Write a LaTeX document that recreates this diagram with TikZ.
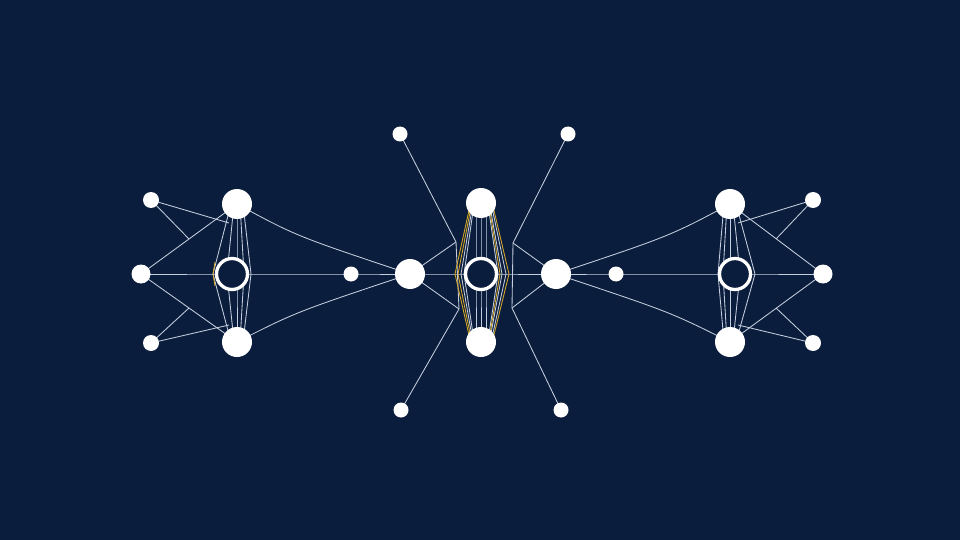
\documentclass[tikz,border=0pt]{standalone}
\pgfdeclarelayer{bgfill}
\pgfdeclarelayer{edges}
\pgfsetlayers{bgfill,edges,main}
\definecolor{bgc}{RGB}{11,29,61}
\definecolor{linec}{RGB}{196,206,222}
\definecolor{goldc}{RGB}{214,168,40}
\tikzset{
  bignode/.style={circle, fill=white, minimum size=30pt, inner sep=0pt},
  midnode/.style={circle, fill=white, minimum size=19pt, inner sep=0pt},
  smallnode/.style={circle, fill=white, minimum size=16pt, inner sep=0pt},
  tinynode/.style={circle, fill=white, minimum size=15pt, inner sep=0pt},
  ringnode/.style={circle, draw=white, line width=3.3pt, fill=bgc, minimum size=31pt, inner sep=0pt},
  edge/.style={draw=linec, line width=0.85pt},
  goldedge/.style={draw=goldc, line width=0.85pt},
}
\begin{document}
\begin{tikzpicture}[x=1pt,y=-1pt]
\begin{pgfonlayer}{bgfill}
\fill[bgc] (0,0) rectangle (960,540);
\end{pgfonlayer}
\useasboundingbox (0,0) rectangle (960,540);

% ---------- nodes: left cluster
\node[bignode] (LT) at (237,204) {};
\node[ringnode] (LR) at (232,274) {};
\node[bignode] (LB) at (237,342) {};
\node[smallnode] (LS1) at (151,200) {};
\node[midnode] (LS2) at (141,274) {};
\node[smallnode] (LS3) at (151,343) {};
\node[tinynode] (LM) at (351,274) {};
% ---------- nodes: centre cluster
\node[bignode] (CL) at (410,274) {};
\node[bignode] (CT) at (481,203) {};
\node[ringnode] (CR) at (481,274) {};
\node[bignode] (CB) at (481,342) {};
\node[bignode] (CRt) at (556,274) {};
\node[tinynode] (C1) at (400,134) {};
\node[tinynode] (C2) at (568,134) {};
\node[tinynode] (C3) at (401,410) {};
\node[tinynode] (C4) at (561,410) {};
% ---------- nodes: right cluster
\node[tinynode] (RM) at (616,274) {};
\node[bignode] (RT) at (730,204) {};
\node[ringnode] (RR) at (735,274) {};
\node[bignode] (RB) at (730,342) {};
\node[smallnode] (RS1) at (813,200) {};
\node[midnode] (RS2) at (823,274) {};
\node[smallnode] (RS3) at (813,343) {};

% ---------- junction coordinates
\coordinate (LJ1) at (189,239);
\coordinate (LJ2) at (189,308);
\coordinate (LA1) at (229,223);
\coordinate (LA2) at (229,325);
\coordinate (LK1) at (213,274);
\coordinate (LK2) at (251,274);
\coordinate (LG1) at (215,262);
\coordinate (LG2) at (215,286);
\coordinate (RJ1) at (776,239);
\coordinate (RJ2) at (776,308);
\coordinate (RA1) at (738,223);
\coordinate (RA2) at (738,325);
\coordinate (RK1) at (718,274);
\coordinate (RK2) at (755,274);
\coordinate (CJ1) at (456,242);
\coordinate (CJ2) at (459,309);
\coordinate (CJ3) at (513,243);
\coordinate (CJ4) at (512,308);

\begin{pgfonlayer}{edges}
% left cluster
\draw[edge] (LS2.center) -- (LT.center);
\draw[edge] (LS2.center) -- (LB.center);
\draw[edge] (LS1.center) -- (LJ1);
\draw[edge] (LS1.center) -- (LA1);
\draw[edge] (LS3.center) -- (LJ2);
\draw[edge] (LS3.center) -- (LA2);
\draw[edge] ([xshift=-6pt]LT.center) -- (LK1) -- ([xshift=-6pt]LB.center);
\draw[edge] ([xshift=6pt]LT.center) -- (LK2) -- ([xshift=6pt]LB.center);
\draw[edge] ([xshift=-3pt]LT.center) -- ([xshift=-5pt]LR.center) -- ([xshift=-3pt]LB.center);
\draw[edge] ([xshift=0pt]LT.center) -- ([xshift=5pt]LR.center) -- ([xshift=0pt]LB.center);
\draw[edge] ([xshift=3pt]LT.center) -- ([xshift=12pt]LR.center) -- ([xshift=3pt]LB.center);
\draw[goldedge] (LG1) -- (LK1) -- (LG2);
\draw[edge] (LS2.center) -- (LR.center) -- (LM.center) -- (CL.center);
% links between clusters
\draw[edge] (LT.center) .. controls (296,236) .. (CL.center);
\draw[edge] (LB.center) .. controls (296,312) .. (CL.center);
\draw[edge] (CRt.center) .. controls (670,236) .. (RT.center);
\draw[edge] (CRt.center) .. controls (670,312) .. (RB.center);
% centre cluster
\draw[edge] (CL.center) -- (CR.center) -- (CRt.center);
\draw[edge] (C1.center) -- (CJ1) -- (CJ2) -- (C3.center);
\draw[edge] (CL.center) -- (CJ1);
\draw[edge] (CL.center) -- (CJ2);
\draw[edge] (C2.center) -- (CJ3) -- (CJ4) -- (C4.center);
\draw[edge] (CRt.center) -- (CJ3);
\draw[edge] (CRt.center) -- (CJ4);
\foreach \dx in {-5,0,5} {
  \draw[edge] ([xshift=\dx pt]CT.center) -- ([xshift=\dx pt]CR.center) -- ([xshift=\dx pt]CB.center);
}
\foreach \dx in {-20,-17,17,21,25} {
  \draw[edge] ([xshift=0.4*\dx pt]CT.center) -- ([xshift=\dx pt]CR.center) -- ([xshift=0.4*\dx pt]CB.center);
}
\foreach \dx in {-26,-23,19,28} {
  \draw[goldedge] ([xshift=0.4*\dx pt]CT.center) -- ([xshift=\dx pt]CR.center) -- ([xshift=0.4*\dx pt]CB.center);
}
% right cluster
\draw[edge] (CRt.center) -- (RM.center) -- (RR.center) -- (RS2.center);
\draw[edge] (RS2.center) -- (RT.center);
\draw[edge] (RS2.center) -- (RB.center);
\draw[edge] (RS1.center) -- (RJ1);
\draw[edge] (RS1.center) -- (RA1);
\draw[edge] (RS3.center) -- (RJ2);
\draw[edge] (RS3.center) -- (RA2);
\draw[edge] ([xshift=-6pt]RT.center) -- (RK1) -- ([xshift=-6pt]RB.center);
\draw[edge] ([xshift=6pt]RT.center) -- (RK2) -- ([xshift=6pt]RB.center);
\draw[edge] ([xshift=-3pt]RT.center) -- ([xshift=-12pt]RR.center) -- ([xshift=-3pt]RB.center);
\draw[edge] ([xshift=0pt]RT.center) -- ([xshift=-5pt]RR.center) -- ([xshift=0pt]RB.center);
\draw[edge] ([xshift=3pt]RT.center) -- ([xshift=5pt]RR.center) -- ([xshift=3pt]RB.center);
\end{pgfonlayer}
\end{tikzpicture}
\end{document}
